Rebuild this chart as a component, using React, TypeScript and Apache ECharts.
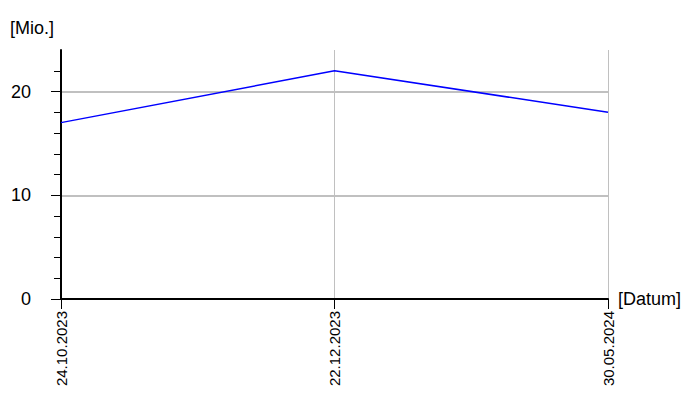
import React, { useEffect, useRef } from "react";
import * as echarts from "echarts";

const categories = ["24.10.2023", "22.12.2023", "30.05.2024"];
const values = [17, 22, 18];
const yTicks = [0, 10, 20];

const FONT = "Liberation Sans, Arial, sans-serif";

export default function App() {
  const ref = useRef<HTMLDivElement>(null);
  useEffect(() => {
    if (!ref.current) return;
    const chart = echarts.init(ref.current, null, { renderer: "svg" });
    chart.setOption({
      animation: false,
      backgroundColor: "#ffffff",
      textStyle: { fontFamily: FONT },
      grid: { left: 61, right: 92, top: 50, bottom: 101, containLabel: false, outerBoundsMode: "none" },
      graphic: [
        {
          type: "text",
          left: 10,
          top: 19,
          style: {
            text: "[Mio.]",
            font: "18px " + FONT,
            fill: "#000",
          },
        },
      ],
      xAxis: {
        type: "category",
        data: categories,
        boundaryGap: false,
        name: "[Datum]",
        nameLocation: "end",
        nameGap: 10,
        nameTextStyle: { fontSize: 18, color: "#000", fontFamily: FONT },
        axisLine: { show: true, lineStyle: { color: "#000", width: 2 } },
        axisTick: { show: true, length: 10, lineStyle: { color: "#000" }, alignWithLabel: true },
        axisLabel: {
          rotate: 90,
          fontSize: 15,
          color: "#000",
          margin: 12,
          interval: 0,
          fontFamily: FONT,
        },
        splitLine: { show: true, lineStyle: { color: "#c0c0c0", width: 1 } },
      },
      yAxis: {
        type: "value",
        min: 0,
        max: 24,
        interval: 10,
        axisLine: { show: true, onZero: false, lineStyle: { color: "#000", width: 2 } },
        axisTick: { show: true, length: 10, lineStyle: { color: "#000" }, customValues: yTicks },
        minorTick: { show: true, splitNumber: 5, length: 7, lineStyle: { color: "#000" } },
        axisLabel: {
          fontSize: 18,
          color: "#000",
          margin: 30,
          fontFamily: FONT,
          customValues: yTicks,
          formatter: (v: number) => (yTicks.includes(v) ? String(v) : ""),
        },
        splitLine: {
          show: true,
          lineStyle: { color: ["#c0c0c0", "#c0c0c0", "#c0c0c0", "rgba(0,0,0,0)"], width: 2 },
        },
      },
      series: [
        {
          type: "line",
          data: values,
          symbol: "none",
          lineStyle: { color: "#0000ff", width: 1.5 },
        },
      ],
    });
    return () => chart.dispose();
  }, []);
  return <div ref={ref} style={{ width: 700, height: 400, position: "absolute", left: 0, top: 0 }} />;
}
